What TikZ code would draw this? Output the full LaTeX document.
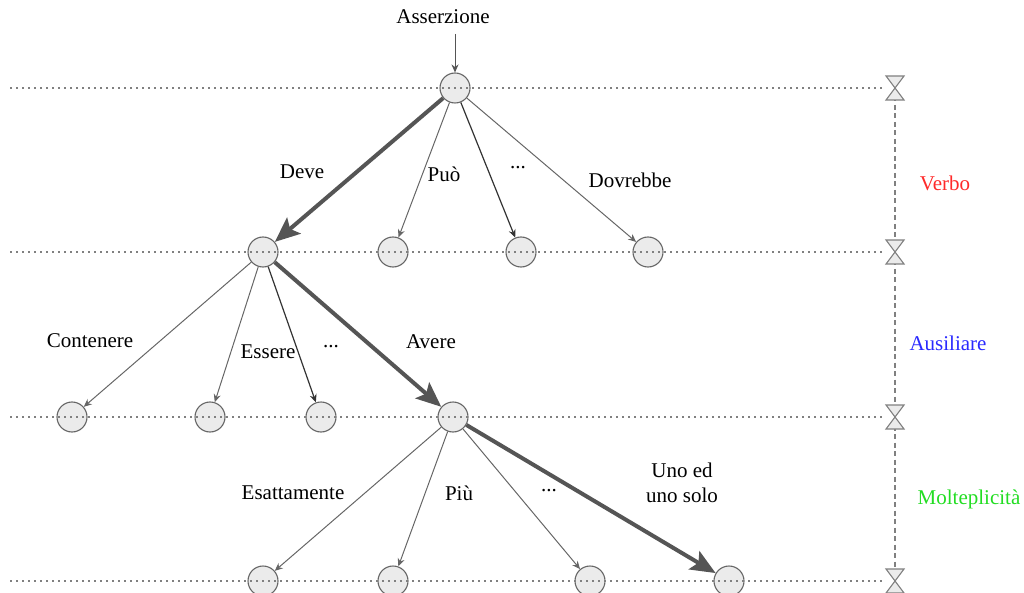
\documentclass[tikz,border=0pt]{standalone}
\usepackage{fontspec}
\setmainfont{Liberation Serif}
\usetikzlibrary{arrows.meta}
\definecolor{edgegray}{HTML}{666666}
\definecolor{heavy}{HTML}{555555}
\definecolor{circfill}{HTML}{EBEBEB}
\definecolor{verbocol}{HTML}{FF2A2A}
\definecolor{auscol}{HTML}{2A2AFF}
\definecolor{moltcol}{HTML}{22DD22}
\tikzset{
  state/.style={circle, draw=edgegray, fill=circfill, line width=1.1pt, minimum size=30pt, inner sep=0pt},
  lbl/.style={font=\fontsize{21}{25}\selectfont, inner sep=0pt, align=center},
  thin edge/.style={draw=edgegray, line width=1pt, -{Stealth[length=8pt,width=7pt]}},
  dark edge/.style={draw=black!80, line width=1.2pt, -{Stealth[length=8pt,width=7pt]}},
  heavy edge/.style={draw=heavy, line width=4pt, -{Stealth[length=25pt,width=21pt,inset=5pt]}},
  level line/.style={draw=gray, line width=1.2pt, dash pattern=on 1.5pt off 4.5pt},
  bracket/.style={draw=gray, line width=1.3pt, dash pattern=on 5pt off 3.5pt},
  hourglass/.style={draw=gray, fill=circfill, line width=1.1pt, line join=miter}
}
\begin{document}
\begin{tikzpicture}[x=1pt,y=-1pt]
\useasboundingbox (0,0) rectangle (1024,593);

% states, level by level
\node[state] (r)  at (455,88) {};
\node[state] (v1) at (263,252) {};
\node[state] (v2) at (393,252) {};
\node[state] (v3) at (521,252) {};
\node[state] (v4) at (648,252) {};
\node[state] (a1) at (72,417) {};
\node[state] (a2) at (210,417) {};
\node[state] (a3) at (321,417) {};
\node[state] (a4) at (453,417) {};
\node[state] (m1) at (263,581) {};
\node[state] (m2) at (393,581) {};
\node[state] (m3) at (590,581) {};
\node[state] (m4) at (729,581) {};

% entry
\node[lbl] (start) at (443,17) {Asserzione};
\draw[draw=heavy, line width=1pt, -{Stealth[length=8pt,width=7pt]}] (455,34) -- (r);

% verb level
\draw[heavy edge] (r) -- (v1);
\draw[thin edge] (r) -- (v2);
\draw[dark edge] (r) -- (v3);
\draw[thin edge] (r) -- (v4);
\node[lbl] (deve) at (302,172) {Deve};
\node[lbl] (puo) at (444,174) {Può};
\node[lbl] (vdots) at (518,168) {...};
\node[lbl] (dovrebbe) at (630,180) {Dovrebbe};

% auxiliary level
\draw[thin edge] (v1) -- (a1);
\draw[thin edge] (v1) -- (a2);
\draw[dark edge] (v1) -- (a3);
\draw[heavy edge] (v1) -- (a4);
\node[lbl] (contenere) at (90,341) {Contenere};
\node[lbl] (essere) at (268,352) {Essere};
\node[lbl] (adots) at (331,347) {...};
\node[lbl] (avere) at (431,342) {Avere};

% multiplicity level
\draw[thin edge] (a4) -- (m1);
\draw[thin edge] (a4) -- (m2);
\draw[thin edge] (a4) -- (m3);
\draw[heavy edge] (a4) -- (m4);
\node[lbl] (esatt) at (293,493) {Esattamente};
\node[lbl] (piu) at (459,493) {Più};
\node[lbl] (mdots) at (549,491) {...};
\node[lbl] (unosolo) at (682,483) {Uno ed\\uno solo};

% level lines
\foreach \y in {88,252,417,581}
  \draw[level line] (10,\y) -- (884,\y);

% level markers and dashed bracket
\foreach \n/\y in {h0/88,h1/252,h2/417,h3/581}
  \coordinate (\n) at (895,\y);
\draw[bracket] (h0) -- (h1);
\draw[bracket] (h1) -- (h2);
\draw[bracket] (h2) -- (h3);
\foreach \n in {h0,h1,h2,h3}
  \draw[hourglass] ([shift={(-9,-12)}]\n) -- ([shift={(9,-12)}]\n) -- ([shift={(-9,12)}]\n) -- ([shift={(9,12)}]\n) -- cycle;

% layer names
\node[lbl, text=verbocol] (verbo) at (945,183) {Verbo};
\node[lbl, text=auscol] (aus) at (948,343) {Ausiliare};
\node[lbl, text=moltcol] (molt) at (969,499) {Molteplicità};
\end{tikzpicture}
\end{document}
